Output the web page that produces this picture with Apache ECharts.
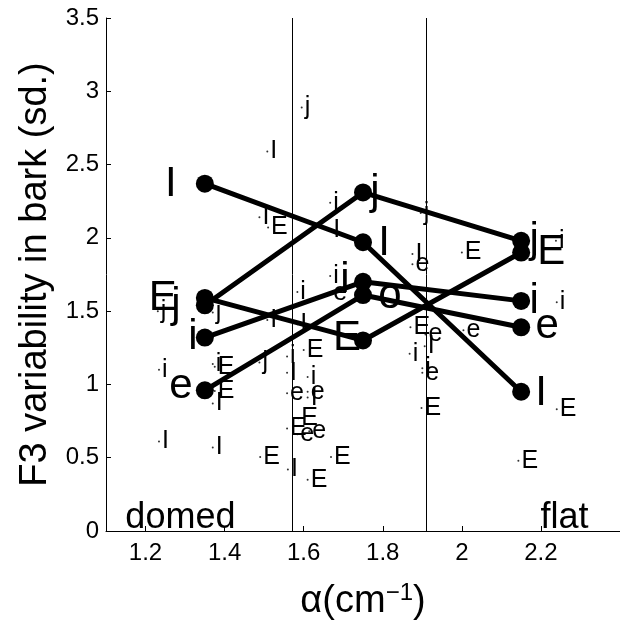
<!DOCTYPE html>
<html><head><meta charset="utf-8">
<script src="https://cdn.jsdelivr.net/npm/echarts@6/dist/echarts.min.js"></script>
<style>html,body{margin:0;padding:0;background:#fff}#c{width:620px;height:627px}</style>
</head><body><div id="c"></div>
<script>
// ---- data ----
const xPositions = [1.35, 1.75, 2.15];
const seriesI = [2.37, 1.97, 0.95];
const seriesJ = [1.54, 2.31, 1.98];
const seriesE = [1.59, 1.30, 1.90];
const seriesI2 = [1.32, 1.70, 1.57];
const seriesE2 = [0.96, 1.61, 1.39];
const labelsI = ['I', 'I', 'I'];
const labelsJ = ['j', 'j', 'j'];
const labelsE = ['E', 'E', 'E'];
const labelsI2 = ['i', 'i', 'i'];
const labelsE2 = ['e', 'o', 'e'];
const boundaries = [1.57, 1.91];
const xTicks = [1.2, 1.4, 1.6, 1.8, 2, 2.2];
const yTicks = [0, 0.5, 1, 1.5, 2, 2.5, 3, 3.5];
const tokenText = ['j','I','I','E','i','I','j','I','e','E','i','i','E','e','e','i','I','e','i','E','E','E',
  'j','j','I','i','I','E','i','i','E','E','I','j','i','I','e','e','i','I','E','E','e','e','I','I','E','E','I','E','i','e'];
const tokenX = [1.595,1.508,1.488,1.51,1.667,1.667,1.896,1.875,1.875,2.00,2.238,2.24,1.87,1.908,2.004,1.868,1.906,1.90,1.90,1.898,2.24,2.143,
  1.231,1.37,1.508,1.584,1.584,1.60,1.234,1.37,1.375,1.375,1.37,1.488,1.558,1.558,1.558,1.61,1.61,1.61,1.586,1.558,1.584,1.614,1.234,1.37,1.49,1.669,1.56,1.61,1.667,1.667];
const tokenY = [2.89,2.59,2.14,2.07,2.24,2.05,2.17,1.89,1.82,1.90,1.98,1.56,1.39,1.34,1.37,1.21,1.26,1.08,1.11,0.84,0.83,0.48,
  1.50,1.49,1.44,1.63,1.41,1.235,1.10,1.14,1.12,0.955,0.87,1.15,1.19,1.08,0.94,0.95,1.05,0.91,0.77,0.70,0.66,0.68,0.61,0.57,0.505,0.505,0.42,0.35,1.74,1.62];
const regionNames = ['domed', 'flat'];
const regionX = [1.149, 2.199];
const regionY = [0.085, 0.085];

// ---- styles ----
const FONT = 'Liberation Sans, Arial, Helvetica, sans-serif';
const INK = 'rgb(0,0,0)';
const bigOffsets = {
  I: [[-34, 1], [21, 1], [20, 2]],
  j: [[-29, 0], [12, 0], [13, 0]],
  E: [[-42, 0], [-16, -2], [30, 0]],
  i: [[-12, 0], [-18, -1], [13, 1]],
  e: [[-24, -4], [27, 1], [26, -1]]
};

function bigSeries(name, vals, labels, offs) {
  return {
    type: 'line', name: name, z: 5,
    symbol: 'circle', symbolSize: 18,
    lineStyle: { color: INK, width: 5 },
    itemStyle: { color: INK },
    data: xPositions.map((x, k) => ({
      value: [x, vals[k]],
      label: {
        show: true, formatter: labels[k], position: 'inside',
        offset: offs[k], color: INK, opacity: 1, textBorderWidth: 0, fontSize: 42, fontFamily: FONT,
        align: 'center', verticalAlign: 'middle'
      }
    })),
    emphasis: { disabled: true },
    animation: false
  };
}

const chart = echarts.init(document.getElementById('c'), null, { renderer: 'canvas' });
chart.setOption({
  backgroundColor: '#fff',
  animation: false,
  textStyle: { color: INK, fontFamily: FONT },
  grid: { left: 106, top: 18, width: 516, height: 513, containLabel: false },
  xAxis: {
    type: 'value', min: 1.1, max: 2.4,
    axisLine: { show: true, lineStyle: { color: INK, width: 1 } },
    axisTick: { show: true, inside: true, length: 5, customValues: xTicks, lineStyle: { color: INK } },
    axisLabel: { customValues: xTicks, color: INK, fontSize: 24, fontFamily: FONT, margin: 10,
      formatter: v => String(+v.toFixed(1)) },
    splitLine: { show: false },
    name: '{a|α(cm}{s|−1}{a|)}',
    nameLocation: 'middle', nameGap: 50,
    nameTextStyle: {
      color: INK,
      rich: {
        a: { fontSize: 38, fontFamily: FONT, color: INK },
        s: { fontSize: 24, fontFamily: FONT, color: INK, verticalAlign: 'top', padding: [0, 0, 18, 0] }
      }
    }
  },
  yAxis: {
    type: 'value', min: 0, max: 3.5, interval: 0.5,
    axisLine: { show: true, lineStyle: { color: INK, width: 1 } },
    axisTick: { show: true, inside: true, length: 5, lineStyle: { color: INK } },
    axisLabel: { color: INK, fontSize: 24, fontFamily: FONT, margin: 7,
      formatter: v => String(+v.toFixed(1)) },
    splitLine: { show: false },
    name: 'F3 variability in bark (sd.)',
    nameLocation: 'middle', nameGap: 47,
    nameTextStyle: { fontSize: 38, fontFamily: FONT, color: INK }
  },
  series: [
    {
      type: 'scatter', z: 2, symbol: 'circle', symbolSize: 2,
      itemStyle: { color: INK },
      data: tokenX.map((x, k) => ({ name: tokenText[k], value: [x, tokenY[k]] })),
      label: { show: true, formatter: '{b}', position: 'right', distance: 2,
        color: INK, opacity: 1, textBorderWidth: 0, fontSize: 25, fontFamily: FONT },
      emphasis: { disabled: true },
      markLine: {
        silent: true, symbol: 'none', label: { show: false },
        lineStyle: { color: INK, width: 1, type: 'solid' },
        data: boundaries.map(b => ({ xAxis: b }))
      },
      animation: false
    },
    {
      type: 'scatter', z: 2, symbolSize: 0,
      data: regionNames.map((n, k) => ({ name: n, value: [regionX[k], regionY[k]] })),
      label: { show: true, formatter: '{b}', position: 'right', distance: 0,
        color: INK, opacity: 1, textBorderWidth: 0, fontSize: 36, fontFamily: FONT },
      emphasis: { disabled: true },
      animation: false
    },
    bigSeries('I', seriesI, labelsI, bigOffsets.I),
    bigSeries('j', seriesJ, labelsJ, bigOffsets.j),
    bigSeries('E', seriesE, labelsE, bigOffsets.E),
    bigSeries('i', seriesI2, labelsI2, bigOffsets.i),
    bigSeries('e', seriesE2, labelsE2, bigOffsets.e)
  ]
});
</script>
</body></html>
